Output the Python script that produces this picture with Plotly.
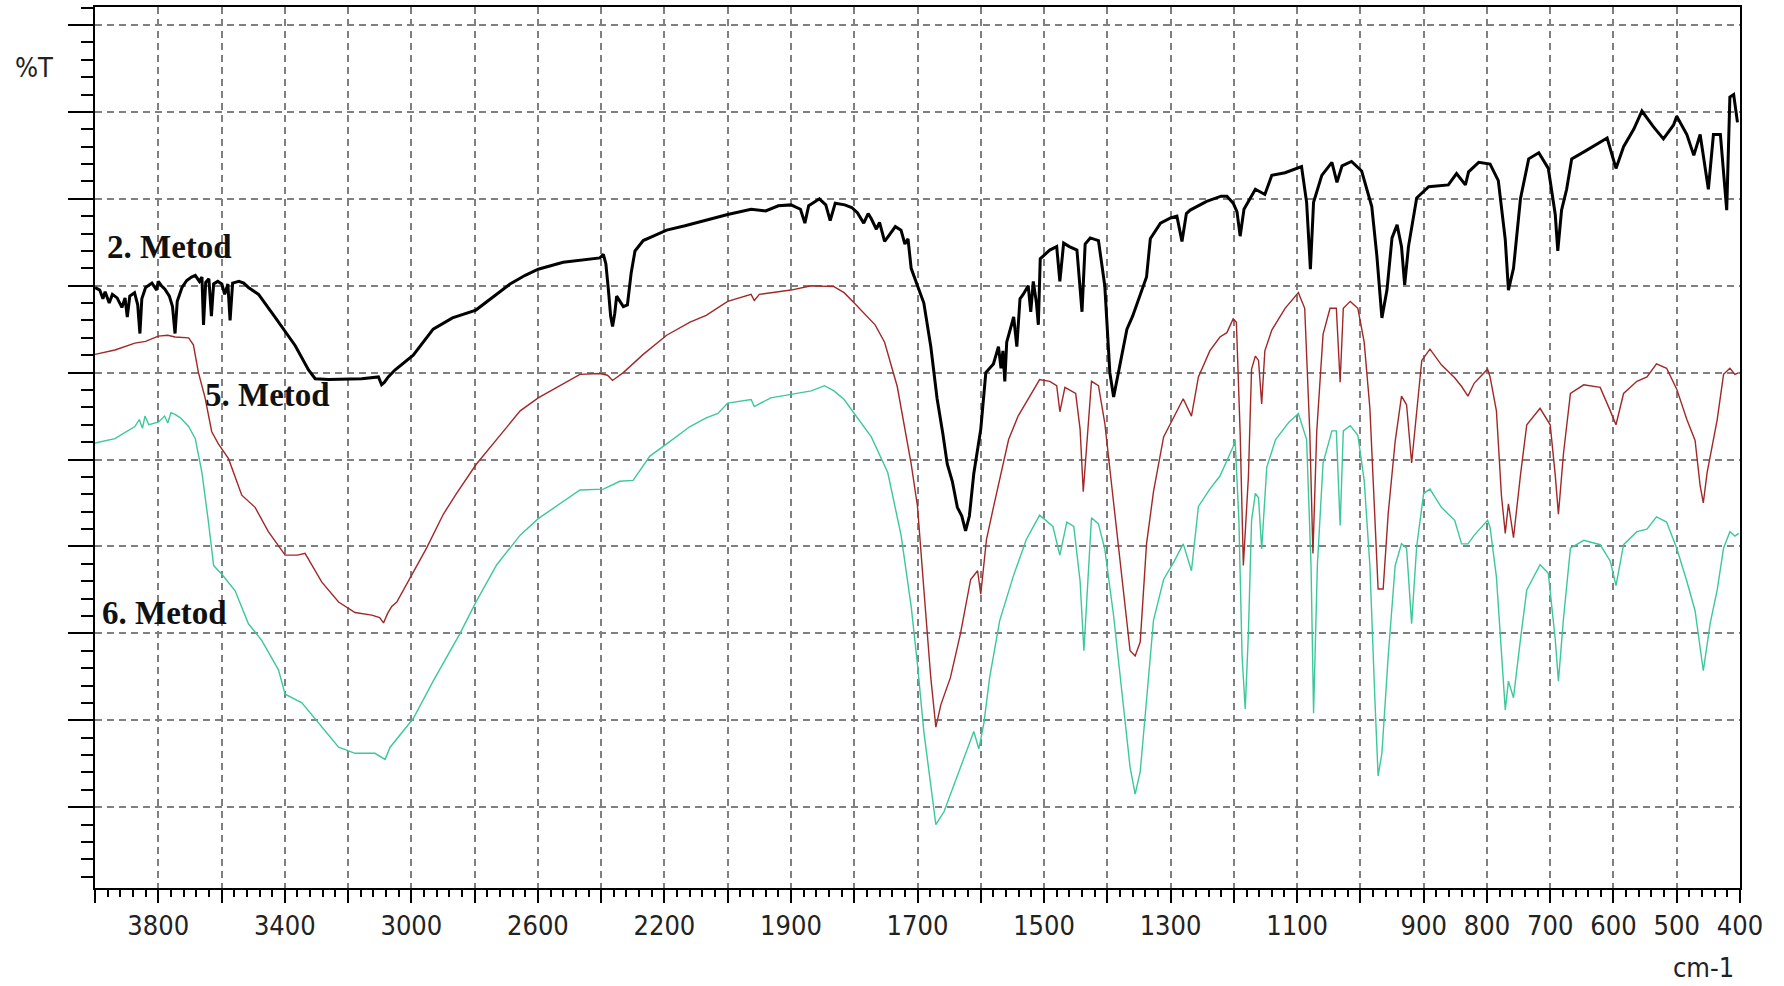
import plotly.graph_objects as go

# ---------------- data (wavenumber cm-1, %T on arbitrary scale) ----------------
m2_wn = [4000, 3985, 3975, 3968, 3955, 3945, 3930, 3915, 3905, 3898, 3890, 3875, 3865, 3858, 3852,
         3840, 3820, 3805, 3800, 3790, 3779, 3765, 3755, 3747, 3740, 3725, 3710, 3695, 3683, 3670,
         3662, 3657, 3650, 3640, 3632, 3625, 3612, 3599, 3590, 3580, 3573, 3565, 3545, 3530, 3515,
         3500, 3483, 3431, 3367, 3325, 3304, 3262, 3200, 3157, 3104, 3094, 3085, 3073, 3052, 2994,
         2931, 2870, 2796, 2740, 2688, 2640, 2599, 2520, 2460, 2404, 2393, 2385, 2377, 2370, 2364,
         2357, 2351, 2340, 2330, 2317, 2305, 2293, 2267, 2230, 2193, 2135, 2060, 2000, 1963, 1940,
         1920, 1900, 1885, 1878, 1872, 1855, 1845, 1838, 1830, 1815, 1804, 1795, 1785, 1778, 1773,
         1765, 1760, 1752, 1745, 1735, 1726, 1720, 1715, 1710, 1700, 1690, 1679, 1669, 1660, 1653,
         1645, 1637, 1630, 1624, 1618, 1611, 1600, 1592, 1580, 1572, 1568, 1565, 1562, 1559, 1548,
         1543, 1538, 1533, 1525, 1521, 1517, 1512, 1509, 1506, 1491, 1480, 1475, 1469, 1460, 1448,
         1440, 1435, 1427, 1414, 1404, 1396, 1390, 1380, 1369, 1360, 1353, 1338, 1332, 1316, 1300,
         1290, 1282, 1275, 1269, 1243, 1220, 1211, 1201, 1195, 1190, 1184, 1166, 1151, 1140, 1119,
         1093, 1085, 1079, 1074, 1061, 1045, 1037, 1029, 1014, 998, 982, 974, 966, 958, 950, 942,
         935, 930, 924, 911, 892, 861, 848, 834, 829, 813, 795, 782, 771, 766, 758, 747, 734, 718,
         703, 692, 688, 682, 674, 666, 642, 610, 596, 584, 568, 555, 537, 521, 505, 500, 484, 473,
         463, 450, 442, 431, 421, 416, 410, 404]
m2_t = [59.8, 59.5, 58.5, 59.3, 58.0, 59.0, 58.6, 57.5, 58.6, 56.4, 58.8, 59.2, 57.8, 54.5, 58.5,
        59.8, 60.3, 59.5, 60.5, 60.0, 59.6, 58.8, 57.6, 54.5, 58.2, 59.8, 60.6, 61.0, 61.2, 60.5,
        61.0, 55.5, 60.4, 60.8, 56.5, 60.2, 60.5, 60.2, 59.0, 60.2, 56.0, 60.3, 60.5, 60.3, 59.8,
        59.4, 59.0, 56.4, 53.1, 50.3, 49.3, 49.2, 49.3, 49.3, 49.5, 48.6, 48.9, 49.5, 50.3, 52.0,
        55.0, 56.3, 57.2, 58.8, 60.2, 61.2, 61.9, 62.7, 63.0, 63.2, 63.6, 62.5, 59.5, 56.5, 55.3,
        56.8, 58.8, 58.2, 57.6, 57.8, 61.5, 64.0, 65.2, 65.8, 66.4, 66.9, 67.6, 68.2, 68.8, 68.6,
        69.2, 69.3, 68.8, 67.2, 69.2, 70.0, 69.3, 67.5, 69.5, 69.3, 69.0, 68.4, 67.2, 68.3, 67.7,
        66.5, 67.3, 65.1, 65.8, 66.8, 66.4, 64.8, 65.4, 62.0, 60.0, 58.0, 53.0, 47.0, 43.0, 39.5,
        37.5, 34.5, 33.5, 31.8, 33.5, 38.4, 43.5, 50.0, 51.0, 53.0, 50.5, 52.5, 49.0, 53.5, 56.4,
        53.0, 58.5, 59.0, 60.0, 57.0, 60.5, 58.0, 55.5, 63.1, 64.1, 64.5, 60.5, 64.9, 64.5, 64.1,
        57.0, 64.8, 65.5, 65.2, 60.0, 50.0, 47.2, 51.0, 55.0, 56.5, 58.0, 61.0, 65.4, 67.2, 67.8,
        68.0, 65.1, 68.3, 68.7, 69.7, 70.3, 70.3, 69.5, 68.5, 65.7, 68.8, 71.1, 70.5, 72.7, 73.0,
        73.7, 69.6, 61.9, 69.6, 72.7, 74.2, 71.9, 73.8, 74.3, 73.2, 69.1, 63.5, 56.3, 59.5, 65.5, 67.0,
        64.5, 60.1, 64.5, 70.1, 71.4, 71.6, 72.9, 71.6, 73.1, 74.2, 74.0, 72.1, 65.3, 59.5, 62.0, 70.0, 74.6, 75.3,
        73.5, 68.2, 64.0, 68.7, 71.1, 74.6, 75.6, 77.0, 73.5, 76.0, 78.0, 80.1, 78.3, 76.9, 78.5, 79.5, 77.4, 75.0,
        77.4, 71.1, 77.4, 77.4, 68.7, 81.7, 82.0, 78.8]

m5_wn = [4000, 3937, 3874, 3840, 3800, 3770, 3747, 3704, 3689, 3673, 3652, 3631, 3610, 3578, 3536,
         3494, 3452, 3399, 3360, 3336, 3283, 3230, 3178, 3125, 3100, 3088, 3075, 3062, 3046, 2994,
         2952, 2899, 2857, 2796, 2730, 2656, 2599, 2551, 2467, 2404, 2380, 2364, 2345, 2330, 2267,
         2193, 2119, 2068, 2000, 1963, 1958, 1950, 1900, 1868, 1832, 1816, 1800, 1767, 1752, 1732,
         1710, 1700, 1690, 1679, 1671, 1663, 1648, 1632, 1616, 1605, 1600, 1595, 1591, 1580, 1570,
         1556, 1541, 1525, 1507, 1491, 1480, 1475, 1467, 1450, 1443, 1438, 1432, 1425, 1414, 1404,
         1390, 1376, 1364, 1356, 1348, 1338, 1327, 1311, 1300, 1280, 1267, 1256, 1238, 1222, 1211,
         1201, 1196, 1190, 1185, 1177, 1172, 1166, 1161, 1156, 1151, 1140, 1119, 1098, 1088, 1080,
         1075, 1069, 1059, 1048, 1038, 1032, 1027, 1016, 1004, 994, 985, 977, 972, 964, 956, 945,
         935, 927, 919, 911, 903, 890, 872, 851, 840, 830, 820, 799, 795, 785, 777, 771, 766, 762,
         758, 747, 737, 716, 700, 692, 687, 679, 668, 647, 621, 605, 596, 584, 563, 547, 532, 516,
         500, 484, 471, 463, 458, 452, 444, 436, 426, 416, 408, 402]
m5_t = [52.1, 52.6, 53.4, 53.6, 54.2, 54.3, 54.1, 54.0, 53.2, 50.0, 47.1, 43.2, 41.8, 40.1, 35.9,
        34.5, 31.7, 29.0, 29.0, 29.2, 25.9, 23.6, 22.4, 22.1, 21.8, 21.2, 22.3, 23.1, 23.6, 27.0,
        29.8, 33.7, 36.1, 39.4, 42.3, 45.6, 47.1, 48.1, 49.8, 49.9, 49.7, 49.1, 49.6, 50.0, 52.1,
        54.3, 55.8, 56.6, 58.2, 59.0, 58.3, 59.0, 59.5, 60.0, 59.9, 59.2, 58.0, 55.5, 53.5, 48.4,
        39.5, 34.6, 25.1, 14.9, 9.2, 11.8, 14.9, 20.0, 26.2, 27.2, 24.5, 28.2, 30.8, 34.5, 37.9,
        42.3, 45.0, 47.0, 49.2, 49.0, 48.5, 45.5, 48.3, 47.6, 43.5, 36.3, 42.5, 49.0, 48.5, 44.2,
        35.0, 26.2, 18.0, 17.4, 19.0, 30.3, 36.3, 42.6, 44.2, 47.0, 45.0, 49.5, 52.5, 54.1, 54.6,
        56.2, 55.8, 43.0, 27.8, 38.0, 50.4, 51.9, 51.4, 46.4, 52.5, 54.9, 57.4, 59.2, 57.4, 43.2,
        29.2, 43.2, 54.4, 57.4, 57.4, 48.9, 57.4, 58.2, 57.4, 53.5, 45.9, 33.1, 25.1, 25.1, 33.8, 42.1,
        47.3, 46.3, 39.6, 45.5, 51.4, 52.7, 50.9, 49.4, 48.4, 47.3, 48.8, 50.4, 49.5, 45.6, 35.8, 31.5, 34.9, 33.0,
        31.0, 38.2, 44.0, 45.9, 44.0, 38.2, 33.7, 40.7, 47.6, 48.6, 48.3, 45.6, 44.0, 47.6, 49.0, 49.5, 51.0, 50.5,
        48.1, 44.6, 42.2, 37.0, 35.0, 38.5, 41.7, 44.6, 49.8, 50.5, 49.8, 50.0]

m6_wn = [4000, 3937, 3874, 3860, 3850, 3842, 3830, 3800, 3780, 3770, 3760, 3747, 3730, 3704, 3683,
         3662, 3641, 3625, 3599, 3557, 3515, 3473, 3420, 3399, 3346, 3283, 3230, 3178, 3115, 3083,
         3067, 2994, 2931, 2846, 2796, 2730, 2656, 2599, 2530, 2467, 2393, 2341, 2299, 2246, 2193,
         2119, 2068, 2031, 2000, 1963, 1958, 1932, 1900, 1868, 1847, 1832, 1816, 1800, 1773, 1747,
         1726, 1710, 1700, 1690, 1679, 1671, 1658, 1642, 1627, 1611, 1603, 1595, 1586, 1570, 1548,
         1528, 1507, 1499, 1486, 1475, 1464, 1453, 1443, 1437, 1430, 1425, 1414, 1404, 1390, 1376,
         1364, 1356, 1348, 1338, 1327, 1311, 1295, 1280, 1267, 1256, 1238, 1222, 1201, 1198, 1192,
         1187, 1182, 1177, 1172, 1166, 1161, 1156, 1148, 1134, 1113, 1098, 1085, 1078, 1074, 1068,
         1059, 1045, 1038, 1032, 1027, 1016, 1004, 994, 985, 977, 972, 966, 956, 945, 935, 927, 919,
         911, 900, 890, 872, 851, 840, 830, 820, 799, 795, 785, 777, 771, 766, 762, 758, 747, 737,
         716, 703, 692, 687, 679, 668, 647, 621, 605, 596, 584, 563, 547, 532, 516, 500, 484, 471,
         458, 447, 436, 426, 416, 408, 402]
m6_t = [41.9, 42.4, 43.8, 44.6, 43.6, 45.0, 44.0, 44.3, 45.0, 44.2, 45.4, 45.2, 44.8, 43.8, 42.4,
        38.5, 32.7, 27.8, 26.8, 24.9, 21.1, 19.2, 15.8, 13.0, 12.0, 9.3, 6.9, 6.2, 6.2, 5.5,
        6.9, 10.2, 14.5, 20.0, 23.6, 27.9, 31.3, 33.2, 34.9, 36.5, 36.6, 37.5, 37.6, 40.4, 41.8,
        43.8, 44.8, 45.3, 46.5, 46.9, 46.1, 47.1, 47.5, 47.9, 48.5, 47.9, 46.9, 45.3, 42.6, 38.5,
        31.3, 23.1, 16.4, 8.7, 2.1, -2.0, -0.5, 2.6, 5.7, 8.7, 6.7, 9.7, 14.9, 21.5, 26.7,
        30.8, 33.6, 33.1, 32.3, 29.0, 32.8, 32.3, 26.0, 18.0, 26.5, 33.3, 32.6, 29.7, 22.0, 12.3,
        4.6, 1.5, 4.1, 12.3, 21.5, 26.2, 28.2, 30.3, 27.2, 34.6, 36.6, 38.1, 41.5, 42.3, 33.0,
        17.4, 11.3, 20.0, 33.0, 36.1, 35.6, 29.7, 39.1, 42.3, 44.3, 45.3, 42.3, 27.8, 10.8, 27.8,
        39.6, 43.3, 43.3, 32.4, 43.3, 43.9, 42.8, 37.6, 27.8, 12.3, 3.6, 6.2, 17.4, 27.8, 30.3, 29.8, 21.1,
        30.0, 36.1, 36.6, 34.5, 33.0, 30.3, 30.3, 31.3, 33.0, 32.2, 26.5, 17.0, 11.2, 14.5, 13.5, 12.6, 19.3, 25.0,
        27.9, 26.9, 19.3, 14.5, 21.7, 29.8, 30.7, 30.2, 28.3, 25.5, 30.2, 31.7, 32.0, 33.4, 32.8, 29.8, 26.0, 22.6,
        15.7, 21.2, 25.0, 29.8, 31.7, 31.2, 31.5]

series_names = ["2. Metod", "5. Metod", "6. Metod"]
labelled_wn = [3800, 3400, 3000, 2600, 2200, 1900, 1700, 1500, 1300, 1100, 900, 800, 700, 600, 500, 400]


# ---------------- axis transform (scale halves above 2000 cm-1) ----------------
def to_u(wn):
    return wn if wn <= 2000 else 2000 + (wn - 2000) / 2.0


def to_wn(u):
    return u if u <= 2000 else 2000 + (u - 2000) * 2.0


major_u = list(range(400, 3001, 100))
major_text = []
for u in major_u:
    w = int(round(to_wn(u)))
    major_text.append(str(w) if w in labelled_wn else "")
minor_u = [u for u in range(400, 3001, 20) if u % 100 != 0]

fig = go.Figure()
styles = [("#000000", 3.0), ("#A02828", 1.4), ("#3CC89A", 1.4)]
for (wn, t), name, (col, w) in zip([(m2_wn, m2_t), (m5_wn, m5_t), (m6_wn, m6_t)], series_names, styles):
    fig.add_trace(go.Scatter(x=[to_u(v) for v in wn], y=t, mode="lines", name=name,
                             line=dict(color=col, width=w), showlegend=False))

tick_font = dict(family="DejaVu Sans Condensed, Liberation Sans Narrow, sans-serif",
                 size=27, color="#222222")

fig.update_layout(
    width=1784, height=986,
    margin=dict(l=95, r=44, t=5, b=98),
    paper_bgcolor="white", plot_bgcolor="white",
    xaxis=dict(range=[3000, 400], tickmode="array", tickvals=major_u, ticktext=major_text,
               ticks="outside", ticklen=13, tickwidth=2, tickcolor="black",
               showline=True, linewidth=2, linecolor="black", mirror=True,
               showgrid=True, gridcolor="#808080", gridwidth=1.5, griddash="7px,5px",
               zeroline=False, tickfont=tick_font,
               minor=dict(tickmode="array", tickvals=minor_u, ticks="outside", ticklen=7,
                          tickwidth=1.5, tickcolor="black", showgrid=False)),
    yaxis=dict(range=[-9.3, 92.07], tickmode="linear", tick0=0, dtick=10,
               ticks="outside", ticklen=25, tickwidth=2, tickcolor="black",
               showticklabels=False,
               showline=True, linewidth=2, linecolor="black", mirror=True,
               showgrid=True, gridcolor="#808080", gridwidth=1.5, griddash="7px,5px",
               zeroline=False,
               minor=dict(tick0=0, dtick=2, ticks="outside", ticklen=12, tickwidth=2,
                          tickcolor="black", showgrid=False)),
)

serif = dict(family="Liberation Serif, Times New Roman, serif", size=33, color="#111111")
fig.add_annotation(x=to_u(3968), y=64.4, text="<b>2. Metod</b>", showarrow=False,
                   xanchor="left", yanchor="middle", font=serif)
fig.add_annotation(x=to_u(3658), y=47.4, text="<b>5. Metod</b>", showarrow=False,
                   xanchor="left", yanchor="middle", font=serif)
fig.add_annotation(x=to_u(3984), y=22.4, text="<b>6. Metod</b>", showarrow=False,
                   xanchor="left", yanchor="middle", font=serif)
fig.add_annotation(xref="paper", yref="paper", x=-0.037, y=0.931, text="%T", showarrow=False,
                   xanchor="center", yanchor="middle", font=tick_font)
fig.add_annotation(xref="paper", yref="paper", x=0.978, y=-0.0906, text="cm-1", showarrow=False,
                   xanchor="center", yanchor="middle", font=tick_font)

fig.write_html("out.html", config={"displayModeBar": False},
               post_script="document.body.style.margin='0';document.body.style.overflow='hidden';")
